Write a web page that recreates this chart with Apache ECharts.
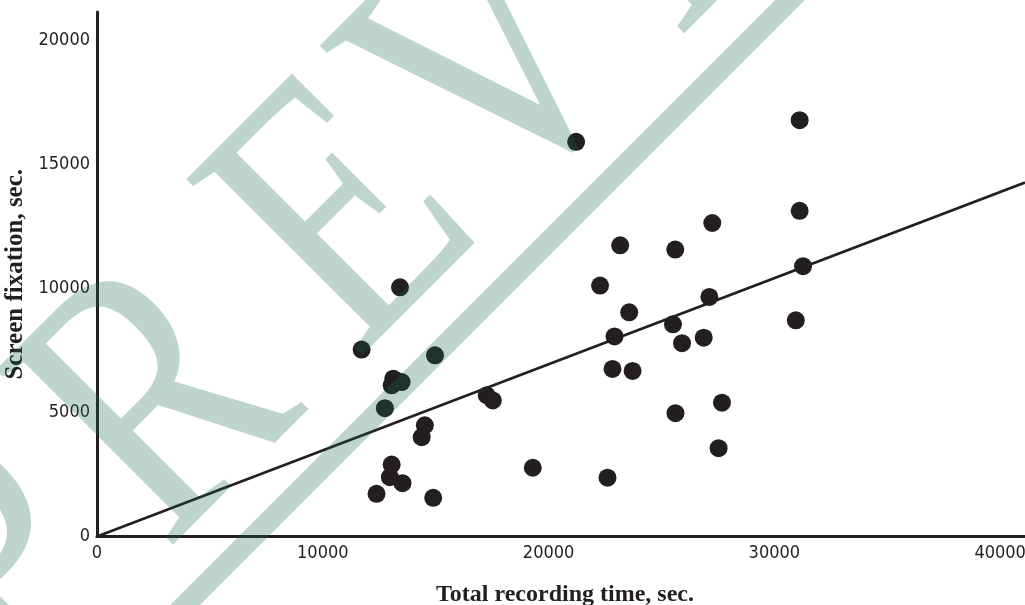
<!DOCTYPE html>
<html>
<head>
<meta charset="utf-8">
<script src="https://cdn.jsdelivr.net/npm/echarts@6/dist/echarts.min.js"></script>
<style>
  html, body { margin: 0; padding: 0; background: #ffffff; }
  #chart { width: 1025px; height: 605px; }
</style>
</head>
<body>
<div id="chart"></div>
<script>
// ---- data ----
const xAxisTitle = 'Total recording time, sec.';
const yAxisTitle = 'Screen fixation, sec.';
const xTicks = [0, 10000, 20000, 30000, 40000];
const yTicks = [0, 5000, 10000, 15000, 20000];

// total recording time (sec.)
const recordingTime = [
  21220, 31120, 31120, 31270, 30950, 27250, 27120, 26870, 27530, 27680,
  25610, 25510, 25910, 25620, 23170, 22280, 23570, 22920, 22830, 23720,
  22610, 19300, 13420, 11720, 14970, 13120, 13490, 13050, 12750, 17260,
  17530, 14520, 14380, 13050, 12970, 13530, 12380, 14890
];
// screen fixation (sec.)
const screenFixation = [
  15900, 16770, 13120, 10890, 8710, 12630, 9650, 8010, 3560, 5390,
  11560, 8550, 7790, 4970, 11730, 10110, 9030, 8060, 6750, 6670,
  2370, 2770, 10040, 7530, 7300, 6360, 6220, 6090, 5170, 5690,
  5480, 4480, 4000, 2900, 2390, 2150, 1720, 1560
];
// fitted regression line end points
const regressionX = [0, 41100];
const regressionY = [0, 14260];

// watermark letters
const watermarkLetters = ['P', 'R', 'E', 'V', 'I'];

// ---- build ----
const points = recordingTime.map((x, i) => [x, screenFixation[i]]);
const regLine = regressionX.map((x, i) => [x, regressionY[i]]);

const ink = '#231f20';
const wmColor = 'rgba(18,105,80,0.28)';

// baseline positions of watermark letters along a 45deg line (x + y = 722)
const wmS = [-400, -172, 89, 300, 500];
const wmFont = '380px "Liberation Serif", "Times New Roman", serif';
const wmGraphics = watermarkLetters.map((ch, i) => {
  const s = wmS[i] * Math.SQRT2;
  return {
    type: 'text',
    x: (722 + s) / 2,
    y: (722 - s) / 2,
    rotation: Math.PI / 4,
    scaleX: 0.8,
    scaleY: 1,
    z: 100,
    silent: true,
    style: {
      text: ch,
      x: 0,
      y: -103,
      font: wmFont,
      fill: wmColor,
      align: 'center',
      verticalAlign: 'middle'
    }
  };
});
wmGraphics.push({
  type: 'line',
  z: 100,
  silent: true,
  shape: { x1: -20, y1: 810, x2: 810, y2: -20 },
  style: { stroke: wmColor, lineWidth: 21 }
});

const chart = echarts.init(document.getElementById('chart'), null, { renderer: 'canvas' });
chart.setOption({
  animation: false,
  backgroundColor: '#ffffff',
  grid: { left: 97, right: 0, top: 12, bottom: 68.5, containLabel: false, outerBoundsMode: 'none' },
  xAxis: {
    type: 'value',
    min: xTicks[0],
    max: 41100,
    interval: xTicks[1] - xTicks[0],
    name: xAxisTitle,
    nameLocation: 'middle',
    nameGap: 46,
    nameTextStyle: { fontFamily: 'Liberation Serif', fontWeight: 'bold', fontSize: 24, color: ink, padding: [0, 0, 0, 8] },
    axisLine: { show: true, lineStyle: { color: ink, width: 3 } },
    axisTick: { show: false },
    splitLine: { show: false },
    axisLabel: {
      margin: 8,
      fontFamily: '"DejaVu Sans Condensed", "DejaVu Sans", sans-serif',
      fontSize: 18, color: ink,
      showMaxLabel: false,
      formatter: v => (xTicks.indexOf(v) >= 0 ? String(v) : '')
    }
  },
  yAxis: {
    type: 'value',
    min: yTicks[0],
    max: 21130,
    interval: yTicks[1] - yTicks[0],
    name: yAxisTitle,
    nameLocation: 'middle',
    nameGap: 61,
    nameTextStyle: { fontFamily: 'Liberation Serif', fontWeight: 'bold', fontSize: 25, color: ink },
    axisLine: { show: true, lineStyle: { color: ink, width: 3 } },
    axisTick: { show: false },
    splitLine: { show: false },
    axisLabel: {
      margin: 7,
      fontFamily: '"DejaVu Sans Condensed", "DejaVu Sans", sans-serif',
      fontSize: 18, color: ink,
      showMaxLabel: false,
      formatter: v => (yTicks.indexOf(v) >= 0 ? String(v) : '')
    }
  },
  series: [
    {
      type: 'line',
      data: regLine,
      symbol: 'none',
      lineStyle: { color: ink, width: 2.6 },
      z: 2,
      silent: true
    },
    {
      type: 'scatter',
      data: points,
      symbol: 'circle',
      symbolSize: 18,
      itemStyle: { color: ink, opacity: 1 },
      z: 3
    }
  ],
  graphic: wmGraphics
});
</script>
</body>
</html>
